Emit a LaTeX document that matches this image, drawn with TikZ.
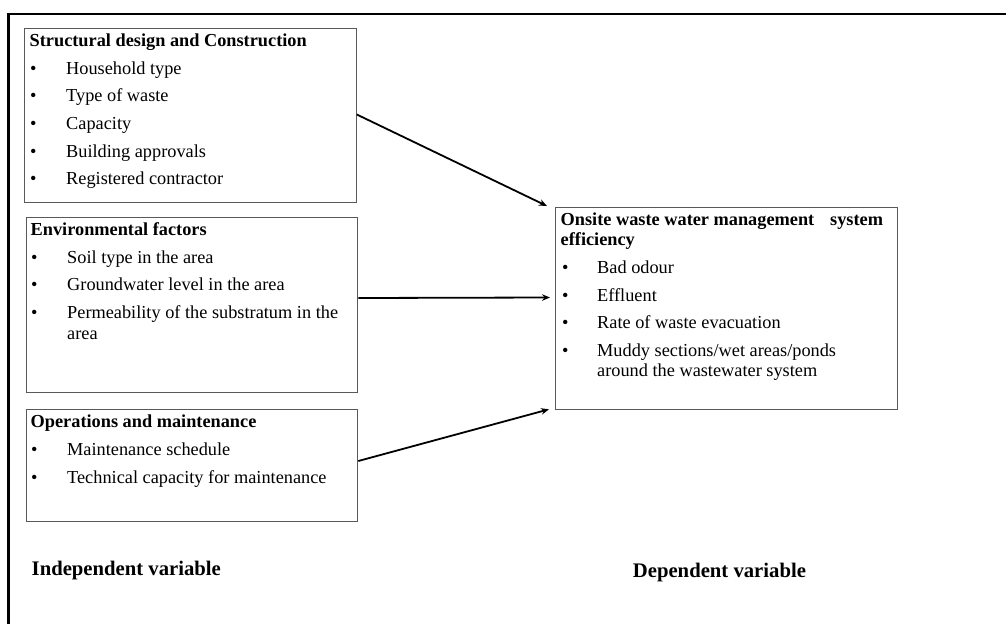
\documentclass[tikz,border=0pt]{standalone}
\usepackage{fontspec}
\setmainfont{Liberation Serif}
\usetikzlibrary{calc,arrows.meta}
\begin{document}
\begin{tikzpicture}[x=1pt,y=-1pt,
  box/.style={draw=black!65,line width=1.3pt,anchor=north west,inner sep=0pt},
  ttl/.style={anchor=base west,inner sep=0pt,font=\fontsize{18.3}{21}\selectfont\bfseries},
  itm/.style={anchor=base west,inner sep=0pt,font=\fontsize{18.3}{21}\selectfont},
  bul/.style={anchor=base west,inner sep=0pt,font=\fontsize{18.3}{21}\selectfont},
  lbl/.style={anchor=base west,inner sep=0pt,font=\fontsize{20.7}{24}\selectfont\bfseries},
  conn/.style={line width=1.8pt,-{Stealth[length=8pt,width=6.5pt]}}]
\useasboundingbox (0,0) rectangle (1006,624);
% outer frame
\draw[line width=2.4pt] (8.5,624) -- (8.5,13.7) -- (1006,13.7);
% boxes
\node[box,minimum width=332pt,minimum height=174pt] (b1) at (23.5,28) {};
\node[box,minimum width=331pt,minimum height=175pt] (b2) at (26,217) {};
\node[box,minimum width=331pt,minimum height=112pt] (b3) at (26,409) {};
\node[box,minimum width=342pt,minimum height=202pt] (b4) at (555,207) {};
% box 1
\node[ttl] (t1) at (29.5,46.5) {Structural design and Construction};
\node[bul] (u11) at (30,74) {•}; \node[itm] (i11) at (66,74) {Household type};
\node[bul] (u12) at (30,101.7) {•}; \node[itm] (i12) at (66,101.7) {Type of waste};
\node[bul] (u13) at (30,129.3) {•}; \node[itm] (i13) at (66,129.3) {Capacity};
\node[bul] (u14) at (30,157) {•}; \node[itm] (i14) at (66,157) {Building approvals};
\node[bul] (u15) at (30,184.7) {•}; \node[itm] (i15) at (66,184.7) {Registered contractor};
% box 2
\node[ttl] (t2) at (30.5,235.5) {Environmental factors};
\node[bul] (u21) at (31,263.2) {•}; \node[itm] (i21) at (67,263.2) {Soil type in the area};
\node[bul] (u22) at (31,290.8) {•}; \node[itm] (i22) at (67,290.8) {Groundwater level in the area};
\node[bul] (u23) at (31,318.7) {•}; \node[itm] (i23) at (67,318.7) {Permeability of the substratum in the};
\node[itm] (i24) at (67,339.5) {area};
% box 3
\node[ttl] (t3) at (30.5,427.5) {Operations and maintenance};
\node[bul] (u31) at (31,455) {•}; \node[itm] (i31) at (67,455) {Maintenance schedule};
\node[bul] (u32) at (31,483) {•}; \node[itm] (i32) at (67,483) {Technical capacity for maintenance};
% box 4
\node[ttl] (t4) at (560.5,225) {Onsite waste water management};
\node[ttl] (t4b) at (830,225) {system};
\node[ttl] (t4c) at (560.5,245.5) {efficiency};
\node[bul] (u41) at (562,273.3) {•}; \node[itm] (i41) at (597,273.3) {Bad odour};
\node[bul] (u42) at (562,301) {•}; \node[itm] (i42) at (597,301) {Effluent};
\node[bul] (u43) at (562,328.5) {•}; \node[itm] (i43) at (597,328.5) {Rate of waste evacuation};
\node[bul] (u44) at (562,356) {•}; \node[itm] (i44) at (597,356) {Muddy sections/wet areas/ponds};
\node[itm] (i45) at (597,376.8) {around the wastewater system};
% labels
\node[lbl] (ind) at (31.5,575.7) {Independent variable};
\node[lbl] (dep) at (632.7,577.3) {Dependent variable};
% connectors
\coordinate (e1) at ($(b4.north west)+(-8,-1)$);
\coordinate (e2) at ($(b4.north west)+(-5,90.5)$);
\coordinate (e3) at ($(b4.south west)+(-6,-1)$);
\draw[conn] ($(b1.north east)+(0,86.5)$) -- (e1);
\draw[conn] ($(b2.north east)+(0,81)$) -- (e2);
\draw[conn] ($(b3.north east)+(0,52)$) -- (e3);
\end{tikzpicture}
\end{document}
